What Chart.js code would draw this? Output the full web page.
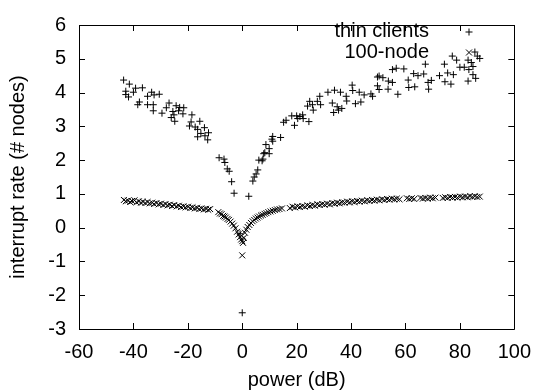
<!DOCTYPE html>
<html>
<head>
<meta charset="utf-8">
<script src="https://cdn.jsdelivr.net/npm/chart.js@4/dist/chart.umd.min.js"></script>
<style>
  html, body { margin: 0; padding: 0; background: #fff; }
  #wrap { width: 542px; height: 392px; }
</style>
</head>
<body>
<div id="wrap"><canvas id="chart" width="542" height="392"></canvas></div>
<script>
// thin clients (+)
const powerThin = [-43.6, -41.5, -39.2, -36.7, -42.8, -42.8, -41.8, -40, -34.8, -33.3, -32.4, -30.5, -37.8, -38.4, -34.8, -32.7, -32.7, -29.5, -26.9, -27.9,
  -24.3, -23, -21.5, -25.5, -25.1, -26.1, -24.8, -23.4, -21.8, -18.5, -18.8, -19.4, -15.6, -17.3, -16.4, -13.9, -15.2, -16.4, -13.7, -12.7,
  -12.4, -8.5, -6.7, -6.4, -5.5, -4.8, -3.9, -3.0, 0, -0.8,
  2.4, 3.9, 4.4, 5.1, 5.7, 6.1, 7.3, 7.6, 7.9, 8.3, 8.7, 9.9, 9.9, 10.9, 11.2, 11.2, 14.1, 15.2, 16.1, 18.2,
  20, 20.4, 22.2, 22.4, 19.2, 21.2, 24.5, 24, 24.8, 25.8, 26.1, 27.6, 28.5, 28.8, 31.5, 33.1, 33.9, 34.9, 35.4, 33.6,
  36.1, 38.2, 38.4, 36.6, 40.4, 40.6, 43, 44.8, 47.3, 47.9, 43.6, 41.6, 49.7, 50.3, 53.6, 57.2, 50.3, 51.7, 53.7, 55.2,
  49.7, 55.2, 56.6, 59.4, 61, 61.2, 63.4, 63, 64.6, 66.7, 67.3, 68.3, 68.5, 69.5, 72.5, 74.3, 74.5, 75.5, 76.7, 77.6,
  77.2, 78.8, 80, 81.6, 83, 83.3, 84.2, 84.8, 84.8, 83, 85.8, 85.5, 86.4, 87.3];
const rateThin = [4.37, 4.25, 4.13, 4.14, 4.04, 3.94, 3.87, 4.01, 3.89, 4.01, 3.93, 3.95, 3.72, 3.64, 3.64, 3.64, 3.46, 3.39, 3.69, 3.55,
  3.61, 3.56, 3.55, 3.44, 3.34, 3.26, 3.15, 3.46, 3.37, 3.34, 3.13, 3.01, 3.15, 2.98, 2.91, 2.96, 2.79, 2.69, 2.72, 2.6,
  2.81, 2.07, 2.03, 1.93, 1.74, 1.67, 1.36, 1.02, -2.52, -0.18,
  0.93, 1.38, 1.5, 1.59, 1.71, 2.0, 1.98, 2.03, 2.19, 2.22, 2.46, 2.19, 2.34, 2.62, 2.56, 2.7, 2.67, 3.12, 3.18, 3.31,
  3.31, 3.23, 3.34, 3.23, 3.03, 3.29, 3.14, 3.6, 3.74, 3.64, 3.48, 3.74, 3.89, 3.64, 4.01, 3.69, 4.07, 3.58, 3.48, 3.41,
  4.01, 3.89, 3.75, 3.53, 4.22, 4.06, 4.01, 3.93, 3.96, 3.89, 3.72, 3.67, 4.2, 4.09, 4.1, 3.95, 4.49, 4.44, 4.34, 4.3,
  4.46, 4.68, 4.72, 4.7, 4.37, 4.15, 4.17, 4.56, 4.5, 4.55, 4.84, 4.3, 4.1, 4.36, 4.5, 4.84, 4.32, 4.58, 4.25, 4.53,
  5.08, 4.96, 4.75, 4.75, 4.96, 4.68, 4.89, 4.77, 4.53, 4.34, 4.42, 5.2, 5.08, 5.01];

// 100-node (x)
const powerNode = [-43.5, -42.8, -42, -41.2, -40.5, -39.6, -38.9, -38, -37.2, -36.5, -35.6, -34.8, -34, -33.1, -32.4, -31.5, -30.7, -29.9, -29, -28.2,
  -27.4, -26.6, -25.8, -25, -24.1, -23.3, -22.5, -21.6, -20.8, -19.9, -19.1, -18.3, -17.4, -16.6, -15.8, -15, -14.1, -13.3, -12.5, -11.8,
  -8.8, -8.2, -7.6, -7.0, -6.5, -6.0, -5.4, -4.9, -4.3, -3.7, -3.1, -2.5, -1.9, -1.3, -0.8, -0.4, 0, 0.3, 0, 0.6,
  1.0, 1.5, 2.0, 2.6, 3.2, 3.8, 4.4, 5.0, 5.6, 6.2, 6.9, 7.5, 8.2, 8.9, 9.6, 10.4, 11.2, 12, 12.8, 13.7,
  14.6, 17.5, 18.5, 19.4, 20.3, 21.2, 22.1, 23, 24, 24.9, 25.8, 26.7, 27.6, 28.5, 29.4, 30.3, 31.2, 32.2, 33.1, 34,
  34.9, 35.8, 36.7, 37.6, 38.6, 39.5, 40.4, 41.3, 42.2, 43.1, 44, 45, 45.9, 46.8, 47.7, 48.6, 49.5, 50.4, 51.4, 52.3,
  53.2, 54.1, 55, 55.9, 56.8, 57.8, 60.5, 61.4, 62.3, 63.2, 65.5, 66.4, 67.3, 68.2, 69.1, 70, 71, 73.7, 74.6, 75.5,
  76.4, 77.3, 78.2, 79.1, 80.1, 81, 81.9, 82.8, 83.7, 84.6, 85.5, 86.4, 87.3];
const rateNode = [0.82, 0.78, 0.80, 0.76, 0.79, 0.81, 0.75, 0.78, 0.74, 0.77, 0.73, 0.76, 0.72, 0.74, 0.70, 0.73, 0.69, 0.71, 0.67, 0.70,
  0.66, 0.68, 0.64, 0.67, 0.63, 0.65, 0.61, 0.63, 0.60, 0.62, 0.58, 0.60, 0.57, 0.59, 0.55, 0.57, 0.54, 0.56, 0.53, 0.55,
  0.46, 0.42, 0.40, 0.35, 0.33, 0.30, 0.26, 0.23, 0.18, 0.12, 0.06, -0.02, -0.12, -0.20, -0.28, -0.35, -0.40, -0.45, -0.82, -0.30,
  -0.15, -0.06, 0.02, 0.08, 0.14, 0.19, 0.23, 0.27, 0.30, 0.33, 0.36, 0.38, 0.41, 0.43, 0.46, 0.48, 0.50, 0.52, 0.54, 0.55,
  0.57, 0.58, 0.62, 0.60, 0.63, 0.61, 0.64, 0.62, 0.66, 0.64, 0.67, 0.65, 0.69, 0.67, 0.70, 0.68, 0.71, 0.69, 0.73, 0.71,
  0.74, 0.72, 0.75, 0.74, 0.77, 0.75, 0.78, 0.76, 0.79, 0.77, 0.80, 0.78, 0.81, 0.79, 0.82, 0.80, 0.83, 0.81, 0.84, 0.82,
  0.85, 0.83, 0.86, 0.84, 0.86, 0.84, 0.87, 0.85, 0.87, 0.85, 0.88, 0.86, 0.88, 0.86, 0.89, 0.87, 0.89, 0.88, 0.90, 0.88,
  0.91, 0.89, 0.91, 0.89, 0.92, 0.90, 0.92, 0.90, 0.93, 0.91, 0.93, 0.91, 0.92];

const seriesNames = ['thin clients', '100-node'];
const xTicks = [-60, -40, -20, 0, 20, 40, 60, 80, 100];
const yTicks = [-3, -2, -1, 0, 1, 2, 3, 4, 5, 6];

const FONT = "'Liberation Sans', Arial, sans-serif";
const FSIZE = 20;
const toPoints = (xs, ys) => xs.map((x, i) => ({ x: x, y: ys[i] }));

// gnuplot-style box with inward ticks on all four sides, plus key
const frameAndKey = {
    id: 'frameAndKey',
    afterDatasetsDraw(chart) {
        const { ctx, chartArea: a, scales } = chart;
        const t = 6;
        ctx.save();
        ctx.strokeStyle = '#000';
        ctx.lineWidth = 1;
        ctx.beginPath();
        ctx.rect(Math.round(a.left) + 0.5, Math.round(a.top) + 0.5, Math.round(a.right - a.left), Math.round(a.bottom - a.top));
        xTicks.forEach(v => {
            const px = Math.round(scales.x.getPixelForValue(v)) + 0.5;
            ctx.moveTo(px, a.bottom); ctx.lineTo(px, a.bottom - t);
            ctx.moveTo(px, a.top); ctx.lineTo(px, a.top + t);
        });
        yTicks.forEach(v => {
            const py = Math.round(scales.y.getPixelForValue(v)) + 0.5;
            ctx.moveTo(a.left, py); ctx.lineTo(a.left + t, py);
            ctx.moveTo(a.right, py); ctx.lineTo(a.right - t, py);
        });
        ctx.stroke();

        // key
        ctx.fillStyle = '#000';
        ctx.font = FSIZE + 'px ' + FONT;
        ctx.textAlign = 'right';
        ctx.textBaseline = 'middle';
        const kx = 429, sx = 469;
        ctx.fillText(seriesNames[0], kx, 31);
        ctx.fillText(seriesNames[1], kx, 52);
        ctx.beginPath();
        ctx.moveTo(sx - 3.5, 32); ctx.lineTo(sx + 3.5, 32);
        ctx.moveTo(sx, 28.5); ctx.lineTo(sx, 35.5);
        ctx.moveTo(sx - 3, 49.5); ctx.lineTo(sx + 3, 55.5);
        ctx.moveTo(sx + 3, 49.5); ctx.lineTo(sx - 3, 55.5);
        ctx.stroke();
        ctx.restore();
    }
};

new Chart(document.getElementById('chart'), {
    type: 'scatter',
    data: {
        datasets: [{
            label: seriesNames[0],
            data: toPoints(powerThin, rateThin),
            pointStyle: 'cross',
            radius: 3.5,
            borderColor: '#000',
            backgroundColor: '#000',
            borderWidth: 1
        }, {
            label: seriesNames[1],
            data: toPoints(powerNode, rateNode),
            pointStyle: 'crossRot',
            radius: 4.2,
            borderColor: '#000',
            backgroundColor: '#000',
            borderWidth: 1
        }]
    },
    options: {
        responsive: false,
        animation: false,
        layout: { padding: { top: 16, right: 20, left: 0, bottom: 0 } },
        plugins: {
            legend: { display: false },
            tooltip: { enabled: false }
        },
        scales: {
            x: {
                type: 'linear', min: -60, max: 100,
                afterFit: s => { s.height = 63; },
                afterBuildTicks: s => { s.ticks = xTicks.map(v => ({ value: v })); },
                grid: { display: false, drawTicks: false },
                border: { display: false },
                ticks: { color: '#000', font: { family: FONT, size: FSIZE }, padding: 11, maxRotation: 0 },
                title: { display: true, text: 'power (dB)', color: '#000', font: { family: FONT, size: FSIZE }, padding: { top: 0, bottom: 0 } }
            },
            y: {
                type: 'linear', min: -3, max: 6,
                afterFit: s => { s.width = 79; },
                afterBuildTicks: s => { s.ticks = yTicks.map(v => ({ value: v })); },
                grid: { display: false, drawTicks: false },
                border: { display: false },
                ticks: { color: '#000', font: { family: FONT, size: FSIZE }, padding: 13 },
                title: { display: true, text: 'interrupt rate (# nodes)', color: '#000', font: { family: FONT, size: FSIZE }, padding: { top: 6, bottom: 0 } }
            }
        }
    },
    plugins: [frameAndKey]
});
</script>
</body>
</html>
